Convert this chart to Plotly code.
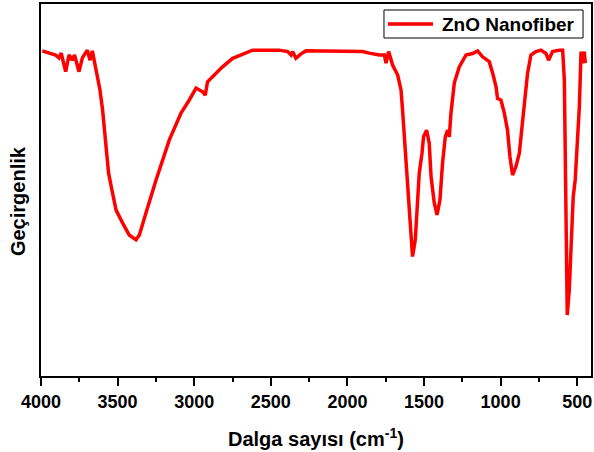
import plotly.graph_objects as go

# Wavenumber (cm-1) and transmittance (arbitrary %)
wavenumber = [3992, 3937, 3905, 3883, 3868, 3839, 3817, 3796, 3781, 3752, 3730, 3698, 3680, 3665,
              3644, 3632, 3615, 3598, 3576, 3559, 3537, 3510, 3467, 3424, 3380, 3358, 3315, 3249,
              3163, 3086, 3032, 2988, 2945, 2928, 2913, 2880, 2858, 2815, 2749, 2662, 2619, 2445,
              2390, 2368, 2358, 2336, 2303, 2270, 2118, 1901, 1857, 1792, 1759, 1748, 1731, 1705,
              1672, 1650, 1640, 1622, 1607, 1592, 1575, 1557, 1542, 1531, 1513, 1503, 1483, 1466,
              1454, 1433, 1415, 1396, 1379, 1361, 1346, 1335, 1324, 1302, 1270, 1226, 1183, 1150,
              1118, 1074, 1052, 1030, 1020, 998, 976, 955, 939, 922, 900, 878, 861, 845, 824, 802,
              769, 737, 704, 687, 661, 617, 595, 584, 578, 573, 565, 552, 541, 526, 513, 504, 498,
              486, 475, 465, 454, 447]
transmittance = [87.4, 86.6, 86.3, 85.5, 86.8, 81.8, 86.3, 84.9, 86.3, 81.8, 85.5, 87.6, 84.9, 87.4,
                 83.1, 81.4, 76.9, 71.5, 61.6, 54.6, 50.0, 44.6, 41.1, 37.9, 36.6, 37.9, 43.8, 52.7,
                 63.4, 70.7, 74.2, 77.4, 76.4, 75.5, 79.1, 80.5, 81.4, 83.1, 85.4, 87.0, 87.6, 87.6,
                 87.2, 86.3, 87.2, 85.4, 86.6, 87.4, 87.4, 87.2, 86.8, 86.3, 86.3, 84.1, 87.2, 83.6,
                 80.9, 76.9, 71.5, 60.7, 50.0, 40.1, 32.1, 36.6, 47.3, 54.6, 59.9, 64.3, 66.1, 62.6,
                 53.6, 46.5, 43.3, 47.3, 57.3, 64.3, 66.1, 64.3, 70.7, 78.8, 83.1, 86.3, 86.7, 87.4,
                 85.8, 84.5, 81.4, 77.8, 74.6, 74.2, 70.7, 66.1, 58.9, 54.0, 56.3, 59.9, 66.7, 72.4,
                 81.4, 86.3, 87.2, 87.6, 86.7, 84.9, 87.2, 87.6, 87.6, 79.6, 54.6, 32.1, 16.4, 23.1,
                 36.6, 48.2, 52.7, 59.9, 66.1, 72.4, 87.2, 84.1, 87.2, 84.1]

x_ticks = [4000, 3500, 3000, 2500, 2000, 1500, 1000, 500]
series_name = "ZnO Nanofiber"
x_title = "Dalga sayısı (cm<sup>-1</sup>)"
y_title = "Geçirgenlik"

FONT = "Arial, 'Liberation Sans', sans-serif"
RED = "#FF0000"

fig = go.Figure()
fig.add_trace(go.Scatter(x=wavenumber, y=transmittance, mode="lines", name=series_name,
                         line=dict(color=RED, width=3.5), showlegend=False))

# legend box drawn in paper coordinates (Origin-style long line sample)
shapes = [
    dict(type="rect", xref="paper", yref="paper", x0=0.6236, x1=0.9855, y0=0.9086, y1=0.9839,
         line=dict(color="black", width=1), fillcolor="white", layer="above"),
    dict(type="line", xref="paper", yref="paper", x0=0.6309, x1=0.7127, y0=0.9462, y1=0.9462,
         line=dict(color=RED, width=3.5), layer="above"),
]

fig.update_layout(
    template="none",
    width=594, height=452,
    margin=dict(l=41, r=3, t=4, b=76, autoexpand=False),
    paper_bgcolor="white", plot_bgcolor="white",
    font=dict(family=FONT, color="black"),
    showlegend=False,
    shapes=shapes,
    xaxis=dict(range=[4000, 410], tickvals=x_ticks, ticks="outside", ticklen=8, tickwidth=1.5,
               tickcolor="black", showline=True, linecolor="black", linewidth=2, mirror=True,
               showgrid=False, zeroline=False, automargin=False,
               tickfont=dict(family=FONT, size=18, color="black", weight="bold"),
               minor=dict(dtick=250, tick0=0, ticks="outside", ticklen=4, tickwidth=1.5,
                          tickcolor="black", showgrid=False)),
    yaxis=dict(range=[0, 100], showticklabels=False, ticks="", showline=True, linecolor="black",
               linewidth=2, mirror=True, showgrid=False, zeroline=False, automargin=False),
    annotations=[
        dict(text=series_name, xref="paper", yref="paper", x=0.7255, y=0.9462, xanchor="left",
             yanchor="middle", showarrow=False,
             font=dict(family=FONT, size=19, color="black", weight="bold")),
        dict(text=x_title, xref="paper", yref="paper", x=0.5, y=-0.164, xanchor="center",
             yanchor="middle", showarrow=False,
             font=dict(family=FONT, size=20, color="black", weight="bold")),
        dict(text=y_title, xref="paper", yref="paper", x=-0.042, y=0.47, xanchor="center",
             yanchor="middle", textangle=-90, showarrow=False,
             font=dict(family=FONT, size=20, color="black", weight="bold")),
    ],
)

fig.write_html("out.html", config={"displayModeBar": False},
               post_script="document.body.style.margin='0';")
